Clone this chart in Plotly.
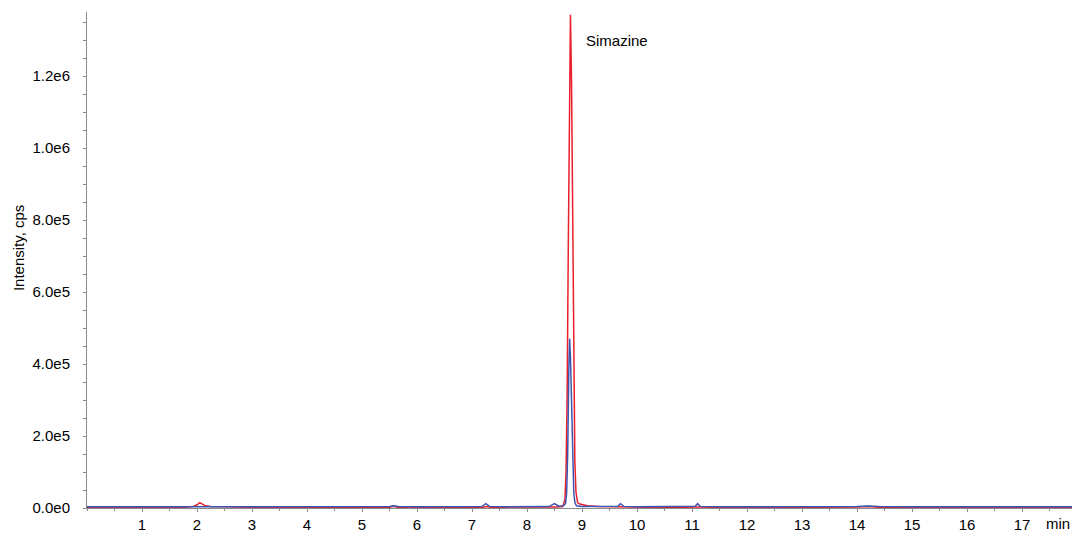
import plotly.graph_objects as go

# ---- data ----
red_time = [0.0, 0.3, 0.6, 1.0, 1.3, 1.6, 1.85, 1.95, 2.0, 2.05, 2.1, 2.15, 2.25, 2.4, 2.55, 2.7,
            3.0, 3.5, 4.0, 4.5, 5.0, 5.5, 5.57, 5.65, 5.8, 5.85, 5.9, 6.5, 7.0, 7.2, 7.27, 7.35,
            7.6, 7.7, 8.0, 8.2, 8.45, 8.55, 8.65, 8.69, 8.71, 8.73, 8.75, 8.77, 8.79, 8.81,
            8.83, 8.85, 8.87, 8.89, 8.92, 8.96, 9.0, 9.1, 9.3, 9.6, 9.7, 9.8, 10.2, 10.5, 11.1,
            11.5, 12.0, 12.6, 12.7, 12.8, 13.0, 13.5, 13.9, 14.0, 14.2, 14.4, 15.0, 15.5, 16.0,
            16.5, 17.0, 17.5, 18.0]
red_val = [1500, 1200, 1800, 1500, 1300, 1600, 2500, 5000, 9000, 15000, 11000, 6000, 4500, 5000, 3500, 2500,
           1500, 1200, 1500, 1300, 1200, 2000, 5000, 2000, 1800, 3500, 1500, 1200, 1300, 2000, 4000, 1500,
           2000, 3000, 3000, 2500, 2000, 3000, 4000, 23000, 100000, 315000, 712000, 1165000, 1370000, 1180000,
           740000, 350000, 130000, 45000, 15000, 11000, 9000, 6000, 4000, 3000, 4000, 2000, 1800, 1500, 2500,
           1500, 1300, 1600, 3000, 1500, 1500, 1200, 2000, 3000, 4000, 2000, 1200, 1500, 1300,
           1400, 1500, 2000, 1500]

blue_time = [0.0, 0.4, 0.8, 1.2, 1.6, 2.0, 2.4, 2.8, 3.2, 3.6, 4.0, 4.5, 5.0, 5.5, 5.58, 5.66, 6.0,
             6.5, 7.0, 7.18, 7.25, 7.32, 7.6, 8.0, 8.4, 8.5, 8.58, 8.66, 8.70, 8.72, 8.74, 8.76,
             8.775, 8.79, 8.81, 8.83, 8.85, 8.87, 8.90, 9.0, 9.5, 9.65, 9.7, 9.76, 10.0, 10.5, 11.0,
             11.06, 11.1, 11.15, 11.5, 12.0, 12.5, 13.0, 13.5, 14.0, 14.2, 14.4, 15.0, 15.5, 16.0,
             16.5, 17.0, 17.5, 18.0]
blue_val = [3500, 3800, 3400, 3600, 3500, 4000, 3600, 3500, 3700, 3500, 3500, 3600, 3500, 4000, 6500, 4000, 3500,
            3600, 3500, 4000, 12000, 4500, 3500, 3500, 4000, 12000, 5000, 6000, 12000, 40000, 150000, 380000,
            470000, 420000, 280000, 130000, 45000, 15000, 6000, 4500, 4000, 5000, 12000, 4500, 3500, 3600, 3500,
            5000, 12000, 4500, 3600, 3500, 3700, 3500, 3600, 4000, 5500, 4000, 3500, 3600, 3500,
            3700, 3500, 3600, 3500]

x_tick_vals = list(range(1, 18))
x_tick_text = [str(v) for v in x_tick_vals]
y_tick_vals = [0, 200000, 400000, 600000, 800000, 1000000, 1200000]
y_tick_text = ["0.0e0", "2.0e5", "4.0e5", "6.0e5", "8.0e5", "1.0e6", "1.2e6"]

peak_label = "Simazine"
peak_label_pos = (9.04, 1300000)

FONT = "Liberation Sans, Arial, Helvetica, sans-serif"
AXIS_GRAY = "#8a8a8a"
FS = 15

fig = go.Figure()
fig.add_trace(go.Scatter(x=red_time, y=red_val, mode="lines",
                         line=dict(color="#ea1f2b", width=1.5), hoverinfo="skip"))
fig.add_trace(go.Scatter(x=blue_time, y=blue_val, mode="lines",
                         line=dict(color="#3c56b0", width=1.5), hoverinfo="skip"))

# page has an 8px body margin: figure is 1072x528 so that it fills the 1080x536 window
fig.update_layout(
    width=1072, height=528,
    margin=dict(l=79, r=3, t=4, b=28),
    paper_bgcolor="white", plot_bgcolor="white",
    showlegend=False,
    font=dict(family=FONT, size=FS, color="#000000"),
    xaxis=dict(range=[0, 18], showgrid=False, zeroline=False,
               showline=True, linecolor=AXIS_GRAY, linewidth=1,
               tickmode="array", tickvals=x_tick_vals, ticktext=x_tick_text,
               ticks="outside", ticklen=3, tickcolor=AXIS_GRAY, tickwidth=1,
               ticklabelstandoff=0,
               minor=dict(dtick=0.5, ticks="outside", ticklen=2, tickcolor=AXIS_GRAY, showgrid=False)),
    yaxis=dict(range=[0, 1378000], showgrid=False, zeroline=False,
               showline=True, linecolor=AXIS_GRAY, linewidth=1,
               tickmode="array", tickvals=y_tick_vals, ticktext=y_tick_text,
               ticks="outside", ticklen=3, tickcolor=AXIS_GRAY, tickwidth=1,
               ticklabelstandoff=10,
               minor=dict(dtick=50000, ticks="outside", ticklen=3, tickcolor=AXIS_GRAY, showgrid=False)),
    annotations=[
        dict(text=peak_label, x=peak_label_pos[0], y=peak_label_pos[1], xref="x", yref="y",
             xanchor="left", yanchor="middle", showarrow=False, font=dict(size=FS)),
        dict(text="min", x=0.981, y=-0.032, xref="paper", yref="paper",
             xanchor="center", yanchor="middle", showarrow=False, font=dict(size=FS)),
        dict(text="Intensity, cps", x=-0.0697, y=0.524, xref="paper", yref="paper",
             xanchor="center", yanchor="middle", textangle=-90, showarrow=False, font=dict(size=FS)),
    ],
)

fig.write_html("out.html")
